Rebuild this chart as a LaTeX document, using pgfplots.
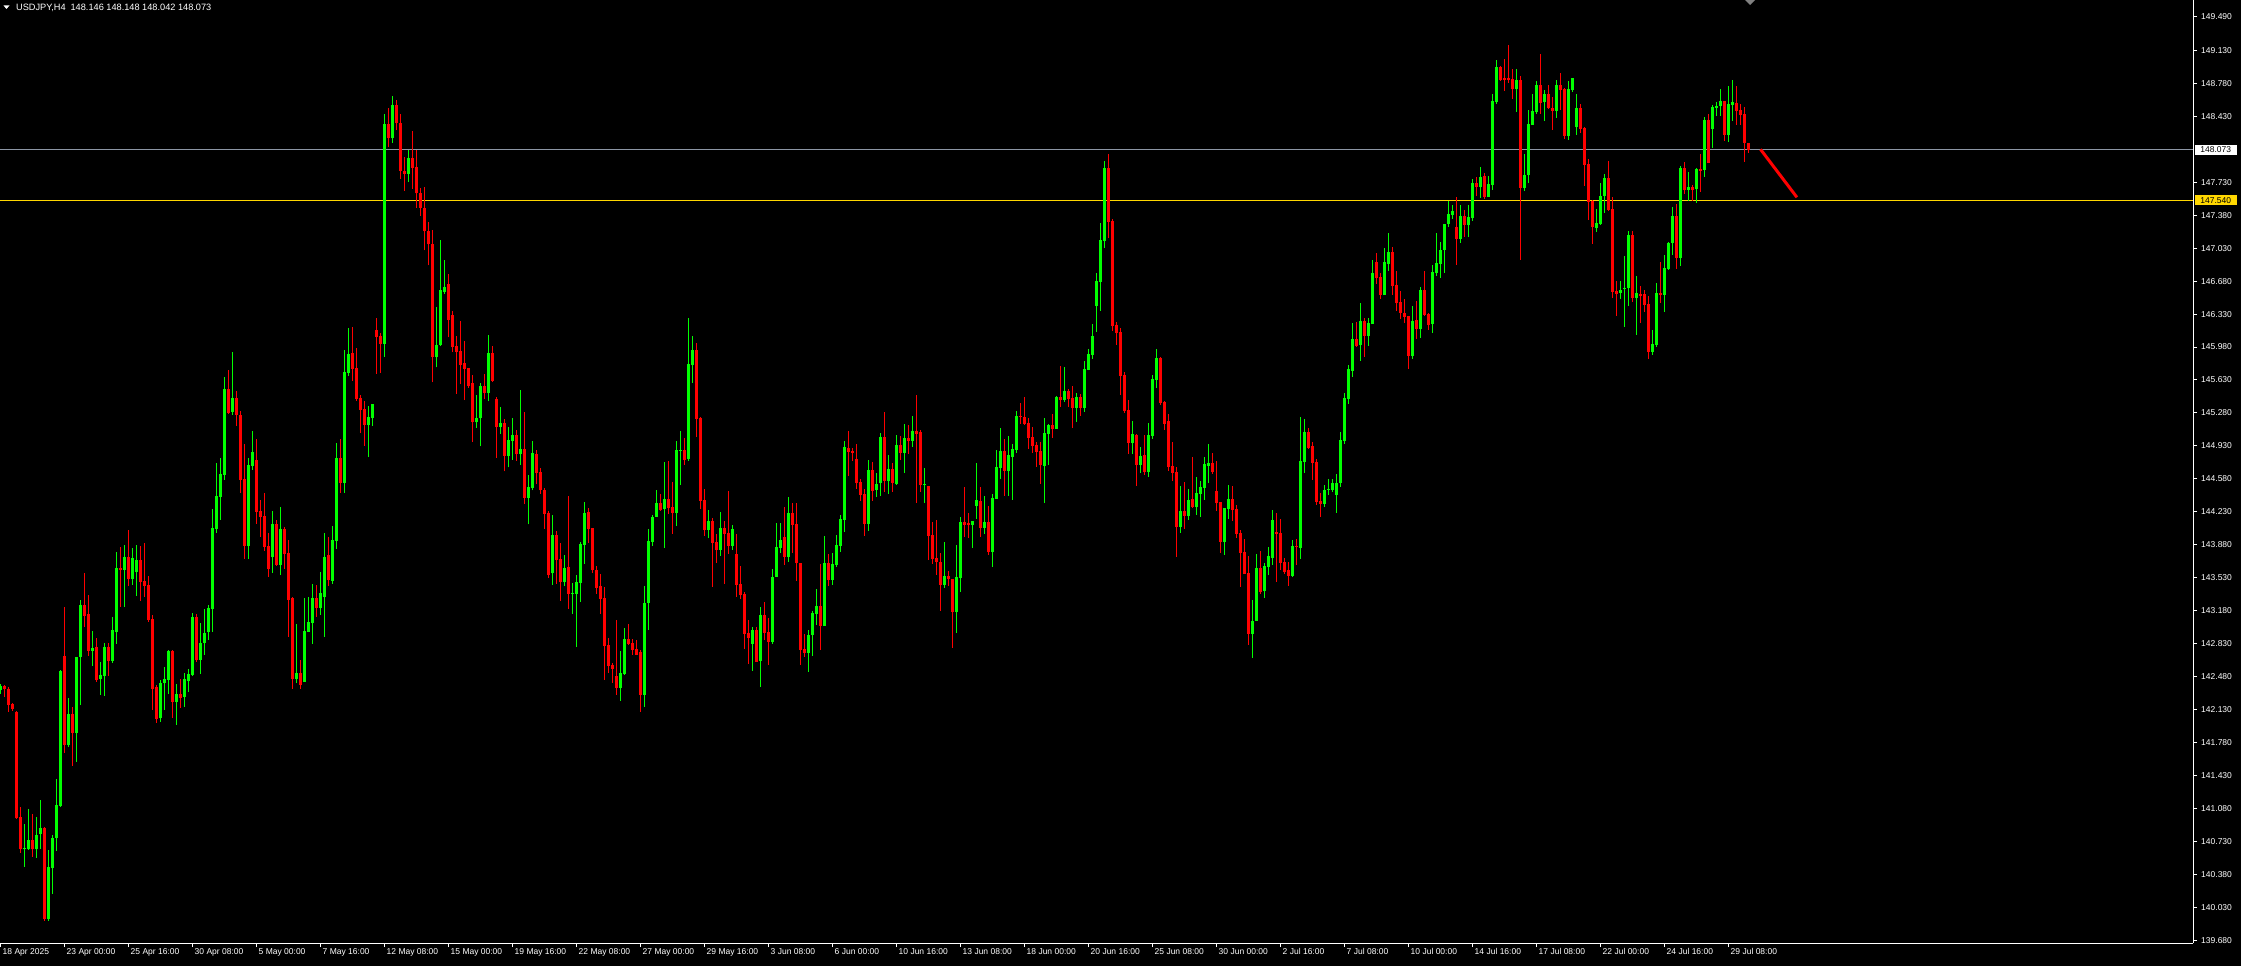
\documentclass[border=0pt]{standalone}
\usepackage{pgfplots}
\pgfplotsset{compat=1.18}
\usepackage{pgfplotstable}
\usetikzlibrary{backgrounds}
\usepackage{fontspec}
\setmainfont{Liberation Sans}

\definecolor{bull}{RGB}{0,255,0}
\definecolor{bear}{RGB}{255,0,0}
\definecolor{bidline}{RGB}{140,150,165}
\definecolor{lvl}{RGB}{255,215,0}

% USDJPY H4 candles: bar index, open, high, low, close
\pgfplotstableread{
i o h l c
0 142.338 142.405 142.296 142.381
1 142.381 142.391 142.267 142.345
2 142.349 142.367 142.108 142.182
3 142.193 142.204 142.119 142.140
4 142.108 142.115 140.968 140.975
5 140.989 141.096 140.611 140.653
6 140.650 140.919 140.462 140.664
7 140.650 141.074 140.639 140.745
8 140.745 141.025 140.568 140.646
9 140.653 140.989 140.558 140.798
10 140.812 141.170 140.650 140.873
11 140.873 140.880 139.889 139.910
12 139.910 140.639 139.889 140.458
13 140.451 140.798 140.175 140.766
14 140.770 141.393 140.632 141.117
15 141.106 142.551 141.099 142.540
16 142.699 143.220 141.666 141.754
17 141.754 142.253 141.736 142.083
18 142.083 142.158 141.535 141.885
19 141.885 142.689 141.577 142.689
20 142.689 143.294 142.182 143.241
21 143.241 143.581 143.011 143.128
22 143.145 143.347 142.703 142.756
23 142.756 142.965 142.597 142.784
24 142.795 142.890 142.427 142.444
25 142.455 142.636 142.289 142.497
26 142.490 142.834 142.278 142.795
27 142.795 142.834 142.490 142.646
28 142.646 143.113 142.625 142.975
29 142.958 143.804 142.830 143.634
30 143.634 143.857 143.220 143.613
31 143.616 143.878 143.220 143.751
32 143.751 144.037 143.446 143.521
33 143.521 143.846 143.457 143.740
34 143.595 143.878 143.340 143.719
35 143.719 143.867 143.287 143.489
36 143.496 143.899 143.329 143.446
37 143.453 143.549 143.064 143.085
38 143.092 143.135 142.129 142.352
39 142.370 142.391 141.991 142.030
40 142.041 142.444 142.002 142.413
41 142.413 142.582 142.129 142.455
42 142.448 142.763 142.299 142.752
43 142.752 142.763 142.044 142.214
44 142.214 142.402 141.970 142.296
45 142.296 142.455 142.151 142.253
46 142.267 142.519 142.161 142.455
47 142.434 142.561 142.320 142.508
48 142.497 143.156 142.490 143.113
49 143.113 143.145 142.639 142.660
50 142.660 143.050 142.512 142.837
51 142.837 143.198 142.710 142.944
52 142.958 143.241 142.873 143.209
53 143.202 144.260 142.958 144.059
54 144.052 144.749 144.009 144.398
55 144.391 144.802 144.147 144.632
56 144.625 145.662 144.568 145.535
57 145.535 145.737 145.269 145.280
58 145.291 145.928 145.259 145.439
59 145.439 145.514 145.142 145.259
60 145.259 145.301 144.434 144.572
61 144.579 144.951 143.733 143.871
62 143.871 144.802 143.733 144.728
63 144.721 145.089 144.678 144.866
64 144.781 145.004 144.105 144.232
65 144.239 144.356 143.967 144.179
66 144.186 144.430 143.818 143.860
67 143.867 144.006 143.542 143.627
68 143.754 144.239 143.584 144.101
69 144.101 144.144 143.655 143.666
70 143.669 144.282 143.563 144.048
71 144.048 144.069 143.620 143.786
72 143.793 143.931 142.905 143.298
73 143.315 143.326 142.352 142.459
74 142.459 143.039 142.409 142.519
75 142.519 142.660 142.352 142.395
76 142.427 143.315 142.427 142.965
77 142.958 143.326 142.958 143.060
78 143.053 143.464 142.830 143.315
79 143.315 143.453 143.117 143.213
80 143.213 143.591 143.138 143.368
81 143.329 144.006 142.905 143.751
82 143.772 143.963 143.446 143.510
83 143.499 144.080 143.467 143.931
84 143.924 144.961 143.839 144.802
85 144.802 145.004 144.434 144.540
86 144.540 145.949 144.434 145.715
87 145.708 146.183 145.676 145.907
88 145.917 146.193 145.623 145.751
89 145.758 145.970 145.411 145.432
90 145.439 145.471 145.071 145.315
91 145.322 145.407 144.933 145.156
92 145.156 145.354 144.816 145.237
93 145.230 145.376 145.145 145.376
94 146.161 146.289 145.698 146.091
95 146.098 146.130 145.705 146.016
96 146.016 148.450 145.878 148.350
97 148.350 148.520 148.100 148.200
98 148.200 148.650 148.150 148.550
99 148.550 148.600 148.280 148.363
100 148.363 148.460 147.767 147.851
101 147.851 147.998 147.641 147.822
102 147.822 148.074 147.733 147.990
103 147.990 148.275 147.662 147.885
104 147.893 148.074 147.460 147.612
105 147.616 147.670 147.376 147.460
106 147.460 147.679 147.007 147.208
107 147.217 147.309 146.847 147.070
108 147.074 147.225 145.604 145.877
109 145.877 146.410 145.764 146.003
110 146.003 147.116 145.990 146.587
111 146.566 146.906 146.545 146.616
112 146.650 146.755 146.083 146.272
113 146.322 146.364 145.927 145.982
114 145.990 146.100 145.486 145.927
115 145.940 146.259 145.583 145.793
116 145.806 146.045 145.415 145.751
117 145.759 145.759 145.545 145.570
118 145.600 145.688 144.970 145.180
119 145.180 145.470 145.121 145.226
120 145.222 145.600 144.924 145.570
121 145.570 145.692 145.423 145.491
122 145.491 146.108 145.402 145.919
123 145.919 145.990 145.608 145.621
124 145.428 145.453 144.806 145.134
125 145.134 145.344 145.058 145.176
126 145.176 145.218 144.659 144.827
127 144.827 145.130 144.701 144.995
128 144.987 145.226 144.785 145.050
129 145.050 145.100 144.772 144.840
130 144.840 145.524 144.730 144.898
131 144.898 145.289 144.315 144.378
132 144.378 144.621 144.096 144.495
133 144.483 144.982 144.457 144.856
134 144.848 144.882 144.520 144.646
135 144.655 144.697 144.420 144.457
136 144.466 144.483 144.050 144.210
137 144.218 144.239 143.529 143.559
138 143.575 144.197 143.454 143.983
139 143.983 144.025 143.466 143.722
140 143.731 143.899 143.286 143.483
141 143.483 143.773 143.441 143.634
142 143.643 144.399 143.202 143.357
143 143.357 143.475 143.147 143.370
144 143.357 143.558 142.798 143.483
145 143.475 143.911 143.277 143.890
146 143.882 144.336 143.680 144.218
147 144.226 144.273 143.903 144.050
148 144.058 144.058 143.580 143.609
149 143.617 143.655 143.361 143.424
150 143.441 143.571 143.147 143.307
151 143.315 143.428 142.448 142.809
152 142.816 142.887 142.522 142.597
153 142.607 142.625 142.416 142.565
154 142.487 143.082 142.289 142.363
155 142.363 142.752 142.225 142.519
156 142.508 142.997 142.498 142.880
157 142.880 143.039 142.816 142.830
158 142.841 142.880 142.713 142.767
159 142.777 142.869 142.713 142.713
160 142.745 142.767 142.108 142.289
161 142.289 143.443 142.161 143.262
162 143.266 144.048 142.979 143.921
163 143.914 144.197 143.871 144.175
164 144.179 144.462 144.175 144.324
165 144.324 144.420 144.239 144.250
166 144.264 144.760 143.850 144.363
167 144.363 144.770 144.211 144.271
168 144.282 144.547 143.998 144.221
169 144.221 144.983 144.083 144.887
170 144.880 145.089 144.515 144.887
171 144.887 145.014 144.731 144.784
172 144.791 146.289 144.774 145.800
173 145.793 146.098 145.599 145.949
174 145.949 146.023 145.029 145.220
175 145.230 145.237 144.264 144.349
176 144.356 144.473 143.977 144.041
177 144.041 144.250 143.956 144.133
178 144.133 144.165 143.436 143.903
179 143.910 143.998 143.690 143.829
180 143.829 144.229 143.765 144.059
181 144.059 144.133 143.467 143.998
182 144.006 144.452 143.786 143.871
183 143.871 144.091 143.829 144.048
184 143.783 143.998 143.329 143.457
185 143.467 143.659 143.308 143.351
186 143.361 143.383 142.777 142.936
187 142.944 143.085 142.618 142.894
188 142.830 143.007 142.543 142.975
189 142.975 143.007 142.639 142.639
190 142.650 143.223 142.374 143.135
191 143.135 143.273 142.873 142.947
192 142.954 143.107 142.607 142.852
193 142.852 143.623 142.830 143.538
194 143.542 144.112 143.542 143.857
195 143.850 144.112 143.797 143.931
196 143.963 144.282 143.669 143.754
197 143.754 144.388 143.701 144.218
198 144.218 144.324 143.797 144.094
199 144.101 144.324 143.499 143.690
200 143.687 143.687 142.607 142.767
201 142.777 142.937 142.692 142.735
202 142.735 142.975 142.533 142.922
203 142.922 143.177 142.702 143.155
204 143.145 143.410 143.028 143.230
205 143.230 143.676 142.766 143.021
206 143.021 143.973 143.021 143.686
207 143.686 143.782 143.446 143.509
208 143.509 143.793 143.456 143.676
209 143.669 143.984 143.647 143.877
210 143.870 144.196 143.807 144.154
211 144.147 144.982 144.019 144.918
212 144.908 145.088 144.614 144.869
213 144.876 144.908 144.773 144.858
214 144.791 144.950 144.476 144.539
215 144.547 144.578 144.348 144.412
216 144.419 144.472 143.977 144.104
217 144.104 144.780 144.030 144.674
218 144.674 144.759 144.348 144.455
219 144.465 144.642 144.391 144.525
220 144.539 145.067 144.401 145.024
221 145.024 145.290 144.444 144.561
222 144.561 144.833 144.423 144.685
223 144.685 144.748 144.444 144.539
224 144.529 145.046 144.518 144.939
225 144.939 145.035 144.784 144.858
226 144.858 145.163 144.646 145.014
227 145.014 145.152 144.847 144.986
228 144.986 145.247 144.922 145.088
229 145.088 145.470 144.327 145.060
230 145.078 145.099 144.444 144.518
231 144.515 144.695 144.327 144.525
232 144.504 144.504 143.722 143.977
233 143.984 144.122 143.679 143.732
234 143.739 144.143 143.562 143.700
235 143.700 143.793 143.180 143.456
236 143.456 143.909 143.424 143.552
237 143.552 143.601 143.446 143.520
238 143.516 143.516 142.787 143.169
239 143.169 143.877 142.946 143.538
240 143.527 144.175 143.382 144.122
241 144.122 144.493 143.966 144.093
242 144.111 144.217 143.955 144.093
243 144.093 144.132 143.849 144.132
244 144.295 144.748 144.157 144.355
245 144.345 144.493 143.966 144.062
246 144.062 144.398 143.998 144.122
247 144.122 144.292 143.775 143.807
248 143.807 144.419 143.647 144.377
249 144.370 144.886 144.370 144.706
250 144.699 145.120 144.582 144.876
251 144.876 145.004 144.402 144.667
252 144.667 145.035 144.402 144.834
253 144.816 144.951 144.359 144.897
254 144.887 145.301 144.855 145.248
255 145.248 145.386 145.166 145.237
256 145.237 145.450 145.156 145.166
257 145.174 145.227 144.901 145.018
258 145.025 145.131 144.858 144.933
259 144.940 144.972 144.710 144.869
260 144.876 144.972 144.529 144.731
261 144.720 145.227 144.327 145.067
262 145.060 145.163 144.731 145.152
263 145.152 145.269 145.018 145.113
264 145.113 145.464 145.113 145.453
265 145.453 145.779 145.347 145.421
266 145.421 145.768 145.400 145.517
267 145.517 145.538 145.347 145.432
268 145.443 145.566 145.120 145.336
269 145.336 145.496 145.188 145.453
270 145.453 145.485 145.251 145.336
271 145.336 145.836 145.294 145.747
272 145.740 145.959 145.736 145.906
273 145.899 146.225 145.857 146.097
274 146.420 146.767 146.143 146.682
275 146.674 147.298 146.367 147.117
276 147.110 147.956 147.036 147.882
277 147.882 148.030 147.142 147.312
278 147.319 147.340 146.154 146.207
279 146.214 146.246 146.005 146.133
280 146.140 146.182 145.474 145.676
281 145.683 145.715 145.283 145.305
282 145.312 145.418 144.848 144.965
283 144.965 145.195 144.848 145.057
284 145.046 145.057 144.508 144.731
285 144.731 144.919 144.646 144.823
286 144.834 145.050 144.625 144.657
287 144.657 145.174 144.604 145.046
288 145.039 145.683 145.007 145.641
289 145.634 145.959 145.549 145.864
290 145.864 145.874 145.368 145.389
291 145.397 145.407 145.103 145.166
292 145.195 145.269 144.667 144.710
293 144.717 144.972 144.561 144.646
294 144.653 144.706 143.754 144.073
295 144.073 144.508 144.009 144.239
296 144.239 144.550 144.051 144.189
297 144.189 144.473 144.147 144.356
298 144.366 144.812 144.274 144.285
299 144.285 144.600 144.200 144.430
300 144.420 144.558 144.179 144.494
301 144.487 144.812 144.359 144.738
302 144.720 144.951 144.540 144.752
303 144.749 144.855 144.636 144.657
304 144.452 144.770 144.243 144.328
305 144.335 144.335 143.797 143.913
306 143.913 144.271 143.775 144.271
307 144.264 144.515 144.158 144.367
308 144.367 144.505 144.137 144.253
309 144.260 144.303 143.956 143.998
310 144.006 144.037 143.436 143.797
311 143.804 143.942 143.574 143.574
312 143.581 143.761 142.820 142.936
313 142.936 143.298 142.682 143.075
314 143.075 143.783 143.075 143.634
315 143.634 143.814 143.361 143.379
316 143.393 143.687 143.319 143.655
317 143.648 143.857 143.563 143.761
318 143.744 144.250 143.669 144.144
319 144.016 144.218 143.489 143.998
320 144.006 144.154 143.616 143.690
321 143.701 143.744 143.574 143.595
322 143.616 143.701 143.446 143.552
323 143.552 143.935 143.542 143.871
324 143.871 143.942 143.669 143.860
325 143.850 145.237 143.733 144.770
326 144.763 145.216 144.646 145.078
327 145.078 145.121 144.901 144.912
328 144.929 144.972 144.572 144.752
329 144.760 144.791 144.306 144.338
330 144.345 144.430 144.179 144.317
331 144.317 144.515 144.285 144.462
332 144.462 144.579 144.413 144.473
333 144.462 144.579 144.444 144.537
334 144.413 144.632 144.221 144.537
335 144.537 145.078 144.498 144.993
336 144.986 145.492 144.954 145.439
337 145.432 145.790 145.379 145.747
338 145.730 146.236 145.666 146.066
339 146.066 146.246 145.984 145.995
340 146.006 146.448 145.836 146.257
341 146.257 146.289 145.878 146.101
342 146.101 146.289 145.995 146.236
343 146.229 146.905 146.229 146.767
344 146.884 146.979 146.653 146.717
345 146.724 146.767 146.494 146.537
346 146.537 147.032 146.537 146.884
347 146.866 147.192 146.792 146.990
348 146.990 147.043 146.537 146.632
349 146.639 146.788 146.367 146.452
350 146.459 146.576 146.275 146.339
351 146.343 146.491 146.233 146.304
352 146.311 146.311 145.751 145.889
353 145.889 146.420 145.858 146.258
354 146.268 146.470 146.070 146.176
355 146.176 146.619 146.081 146.587
356 146.587 146.789 146.314 146.321
357 146.332 146.343 146.166 146.219
358 146.226 146.852 146.134 146.778
359 146.771 147.192 146.739 146.874
360 146.867 147.097 146.718 147.012
361 147.015 147.288 146.771 147.288
362 147.288 147.532 147.259 147.394
363 147.383 147.489 147.344 147.426
364 147.256 147.574 146.856 147.132
365 147.132 147.489 147.089 147.373
366 147.373 147.436 147.153 147.277
367 147.277 147.489 147.153 147.362
368 147.351 147.766 147.323 147.723
369 147.723 147.787 147.582 147.681
370 147.681 147.893 147.564 147.787
371 147.797 147.829 147.557 147.578
372 147.578 147.797 147.578 147.713
373 147.702 148.668 147.649 148.594
374 148.583 149.029 148.562 148.955
375 148.955 148.966 148.806 148.817
376 148.835 149.040 148.700 148.817
377 148.835 149.189 148.785 148.817
378 148.824 148.934 148.615 148.721
379 148.721 148.934 148.477 148.817
380 148.817 148.859 146.905 147.674
381 147.674 148.031 147.638 147.808
382 147.808 148.498 147.723 148.350
383 148.339 148.668 148.339 148.488
384 148.477 148.806 148.456 148.764
385 148.764 149.093 148.456 148.573
386 148.583 148.711 148.382 148.668
387 148.668 148.764 148.509 148.520
388 148.520 148.636 148.286 148.488
389 148.488 148.817 148.413 148.764
390 148.764 148.891 148.498 148.711
391 148.721 148.732 148.190 148.222
392 148.222 148.806 148.180 148.721
393 148.711 148.838 148.690 148.838
394 148.318 148.668 148.233 148.520
395 148.520 148.562 148.258 148.300
396 148.307 148.318 147.695 147.918
397 147.925 147.978 147.334 147.525
398 147.536 147.546 147.079 147.259
399 147.249 147.447 147.206 147.302
400 147.291 147.723 147.281 147.585
401 147.585 147.819 147.408 147.776
402 147.776 147.957 147.429 147.436
403 147.447 147.574 146.505 146.569
404 146.579 146.682 146.314 146.544
405 146.554 146.682 146.494 146.586
406 146.597 146.947 146.197 146.611
407 146.604 147.213 146.420 147.170
408 147.170 147.213 146.462 146.505
409 146.505 146.735 146.112 146.555
410 146.544 146.629 146.239 146.523
411 146.544 146.586 146.356 146.431
412 146.438 146.523 145.857 145.931
413 145.931 146.165 145.900 146.013
414 146.002 146.661 145.985 146.555
415 146.555 146.884 146.452 146.537
416 146.537 146.958 146.356 146.820
417 146.809 147.096 146.802 147.086
418 147.086 147.468 146.958 147.372
419 147.372 147.500 146.813 146.930
420 146.930 147.903 146.845 147.882
421 147.882 147.946 147.609 147.652
422 147.652 147.840 147.535 147.680
423 147.680 147.702 147.535 147.652
424 147.663 147.882 147.514 147.871
425 147.871 148.031 147.631 147.854
426 147.861 148.424 147.790 148.392
427 148.392 148.456 147.939 147.939
428 148.300 148.551 148.098 148.530
429 148.523 148.583 148.438 148.540
430 148.540 148.721 148.438 148.594
431 148.594 148.594 148.172 148.236
432 148.236 148.753 148.162 148.562
433 148.551 148.817 148.385 148.583
434 148.572 148.753 148.342 148.491
435 148.498 148.562 148.342 148.448
436 148.456 148.530 147.949 148.151
437 148.146 148.148 148.042 148.073
}\ohlc

\begin{document}
\begin{tikzpicture}
\begin{axis}[
  name=ax, at={(0pt,0pt)}, anchor=south west,
  scale only axis, width=2193pt, height=943pt,
  xmin=-0.125, xmax=548.125,
  ymin=139.650, ymax=149.666,
  axis x line*=bottom, axis y line*=right,
  axis line style={white, line width=1pt, -},
  clip=false,
  tick align=outside, major tick length=4pt,
  tick style={white, line width=1pt},
  xtick={0,16,...,432},
  xticklabels={18 Apr 2025, 23 Apr 00:00, 25 Apr 16:00, 30 Apr 08:00,
    5 May 00:00, 7 May 16:00, 12 May 08:00, 15 May 00:00, 19 May 16:00,
    22 May 08:00, 27 May 00:00, 29 May 16:00, 3 Jun 08:00, 6 Jun 00:00,
    10 Jun 16:00, 13 Jun 08:00, 18 Jun 00:00, 20 Jun 16:00, 25 Jun 08:00,
    30 Jun 00:00, 2 Jul 16:00, 7 Jul 08:00, 10 Jul 00:00, 14 Jul 16:00,
    17 Jul 08:00, 22 Jul 00:00, 24 Jul 16:00, 29 Jul 08:00},
  ytick={149.49,149.13,148.78,148.43,147.73,147.38,147.03,146.68,146.33,
    145.98,145.63,145.28,144.93,144.58,144.23,143.88,143.53,143.18,142.83,
    142.48,142.13,141.78,141.43,141.08,140.73,140.38,140.03,139.68},
  yticklabels={149.490,149.130,148.780,148.430,147.730,147.380,147.030,
    146.680,146.330,145.980,145.630,145.280,144.930,144.580,144.230,143.880,
    143.530,143.180,142.830,142.480,142.130,141.780,141.430,141.080,140.730,
    140.380,140.030,139.680},
  ticklabel style={font=\fontsize{8.5}{10}\selectfont, text=white},
  xticklabel style={anchor=north west, inner sep=1pt, xshift=1pt},
  yticklabel style={anchor=west, inner sep=1pt, xshift=3pt},
]
% bid line and level line
\addplot[bidline, line width=1pt] coordinates {(-0.125,148.073) (548.125,148.073)};
\addplot[lvl, line width=1pt] coordinates {(-0.125,147.540) (548.125,147.540)};

% wicks
\addplot[bull, line width=1pt, quiver={u=0, v=\thisrow{h}-\thisrow{l}},
  restrict expr to domain={\thisrow{c}-\thisrow{o}}{0:100}] table[x=i, y=l] {\ohlc};
\addplot[bear, line width=1pt, quiver={u=0, v=\thisrow{h}-\thisrow{l}},
  restrict expr to domain={\thisrow{c}-\thisrow{o}}{-100:-0.0001}] table[x=i, y=l] {\ohlc};
% bodies
\addplot[bull, line width=3pt, quiver={u=0, v={max(\thisrow{c}-\thisrow{o},0.011)}},
  restrict expr to domain={\thisrow{c}-\thisrow{o}}{0:100}] table[x=i, y=o] {\ohlc};
\addplot[bear, line width=3pt, quiver={u=0, v={max(\thisrow{o}-\thisrow{c},0.011)}},
  restrict expr to domain={\thisrow{c}-\thisrow{o}}{-100:-0.0001}] table[x=i, y=c] {\ohlc};

% trend line drawn on the chart
\addplot[bear, line width=3pt] coordinates {(440,148.08) (449.1,147.57)};

% price boxes on the scale
\node[fill=white, text=black, anchor=west, inner sep=0pt, minimum width=42pt,
  minimum height=10.5pt, font=\fontsize{8.5}{10}\selectfont, xshift=1.5pt]
  at (axis cs:548.125,148.073) {148.073};
\node[fill=lvl, text=black, anchor=west, inner sep=0pt, minimum width=42pt,
  minimum height=10.5pt, font=\fontsize{8.5}{10}\selectfont, xshift=1.5pt]
  at (axis cs:548.125,147.540) {147.540};
\end{axis}

% header
\fill[white] ([xshift=3.5pt,yshift=-5.5pt]ax.north west) -- ++(6pt,0) -- ++(-3pt,-3.5pt) -- cycle;
\node[anchor=base west, inner sep=0pt, text=white, font=\fontsize{9.2}{11}\selectfont]
  at ([xshift=16pt,yshift=-10.7pt]ax.north west)
  {USDJPY,H4\hspace{5pt}148.146 148.148 148.042 148.073};
% chart shift marker
\fill[gray] ([xshift=1745pt]ax.north west) -- ++(10pt,0) -- ++(-5pt,-5pt) -- cycle;

\pgfresetboundingbox
\path[use as bounding box] ([yshift=-23pt]ax.south west) rectangle ([xshift=48pt]ax.north east);
\begin{scope}[on background layer]
\fill[black] ([yshift=-23pt]ax.south west) rectangle ([xshift=48pt]ax.north east);
\end{scope}
\end{tikzpicture}
\end{document}
